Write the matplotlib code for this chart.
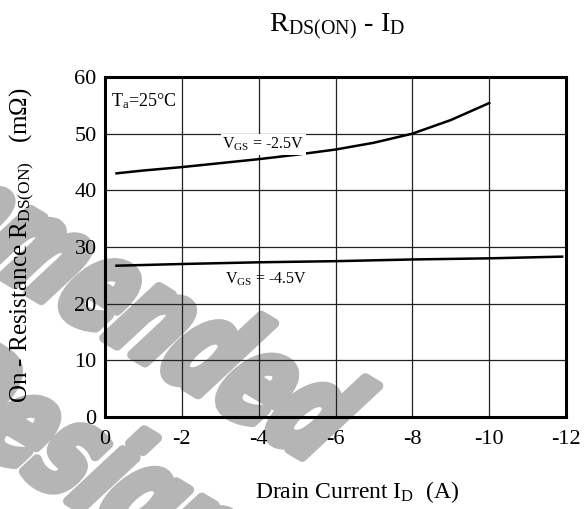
import matplotlib
matplotlib.use('Agg')
import matplotlib.pyplot as plt
import matplotlib.patheffects as pe
from matplotlib.transforms import Affine2D

plt.rcParams['font.family'] = ['Liberation Serif', 'DejaVu Serif']
plt.rcParams['mathtext.fontset'] = 'custom'
plt.rcParams['mathtext.rm'] = 'Liberation Serif'
plt.rcParams['mathtext.it'] = 'Liberation Serif'

# R_DS(on) vs drain current, Ta = 25C
id_25 = [-0.3, -1, -2, -3, -4, -5, -6, -7, -8, -9, -10]
rds_25 = [43.0, 43.5, 44.1, 44.8, 45.5, 46.3, 47.2, 48.4, 50.0, 52.4, 55.4]

id_45 = [-0.3, -2, -4, -6, -8, -10, -11.9]
rds_45 = [26.7, 27.0, 27.3, 27.5, 27.8, 28.0, 28.3]

x_ticks = [0, -2, -4, -6, -8, -10, -12]
y_ticks = [0, 10, 20, 30, 40, 50, 60]

GREY = '#b5b5b5'


class Condensed(pe.AbstractPathEffect):
    """Squeeze and slant the glyphs, then fill them with a fat outline."""

    def __init__(self, sx=0.66, slant=16, lw=7, color=GREY):
        super().__init__()
        self.sx, self.slant, self.lw, self.color = sx, slant, lw, color

    def draw_path(self, renderer, gc, tpath, affine, rgbFace=None):
        aff = Affine2D().scale(self.sx, 1).skew_deg(self.slant, 0) + affine
        gc0 = renderer.new_gc()
        gc0.copy_properties(gc)
        gc0.set_linewidth(self.lw)
        gc0.set_foreground(self.color)
        gc0.set_joinstyle('round')
        renderer.draw_path(gc0, tpath, aff, rgbFace)
        gc0.restore()


W, H = 587, 509
fig = plt.figure(figsize=(W / 100, H / 100), dpi=100)
ax = fig.add_axes([105 / W, 1 - 417 / H, 461 / W, 340 / H])
ax.set_facecolor('none')

# watermark behind the plot
wm = dict(color=GREY, fontsize=95, fontweight='bold', family='DejaVu Sans',
          rotation=-31, rotation_mode='anchor', ha='left', va='baseline',
          zorder=-5, path_effects=[Condensed()])
fig.text(-312 / W, 421 / H, 'Recommended', **wm)
fig.text(-450 / W, 319 / H, 'for New Design', **wm)

ax.plot(id_25, rds_25, color='black', lw=1.8)
ax.plot(id_45, rds_45, color='black', lw=1.8)

ax.set_xlim(0, -12)
ax.set_ylim(0, 60)
ax.set_xticks(x_ticks)
ax.set_yticks(y_ticks)
ax.set_xticklabels([str(v) for v in x_ticks])
ax.tick_params(length=0, labelsize=16)
ax.tick_params(axis='y', pad=6)
ax.tick_params(axis='x', pad=9)
ax.grid(True, color='#222222', lw=0.9)
for s in ax.spines.values():
    s.set_linewidth(2.2)

ax.text(-0.15, 55.8, 'T$_\\mathregular{a}$=25°C', fontsize=13, va='center')
ax.text(-3.05, 48.1, r'V$_\mathregular{GS}$ = -2.5V', fontsize=11.5, va='center',
        bbox=dict(facecolor='white', edgecolor='none', pad=1))
ax.text(-3.12, 24.3, r'V$_\mathregular{GS}$ = -4.5V', fontsize=11.5, va='center')

fig.text(337 / W, 1 - 27 / H, r'R$_\mathregular{DS(ON)}$ - I$_\mathregular{D}$',
         fontsize=20.5, ha='center', va='center')
fig.text(357 / W, 1 - 492 / H, r'Drain Current I$_\mathregular{D}$  (A)',
         fontsize=17, ha='center', va='center')
fig.text(22 / W, 1 - 245 / H, r'On - Resistance R$_\mathregular{DS(ON)}$   (m$\Omega$)',
         fontsize=18, ha='center', va='center', rotation=90)

fig.savefig('out.png', dpi=100)
